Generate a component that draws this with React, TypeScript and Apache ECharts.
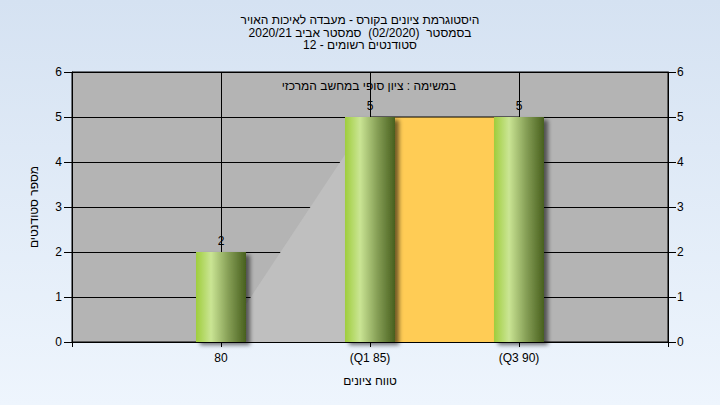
import React, { useEffect, useRef } from 'react';
import * as echarts from 'echarts';

const categories = ['', '80', '(Q1 85)', '(Q3 90)', ''];
const studentCounts: (number | string)[] = ['-', 2, 5, 5, '-'];
const rampValues: (number | string)[] = ['-', 0, 5, '-', '-'];
const quartileBand: (number | string)[] = ['-', '-', 5, 5, '-'];
const yMin = 0;
const yMax = 6;
const yInterval = 1;
const titleLines = [
  'היסטוגרמת ציונים בקורס - מעבדה לאיכות האויר',
  'בסמסטר  (02/2020)  סמסטר אביב 2020/21',
  'סטודנטים רשומים - 12',
];
const subtitle = 'במשימה : ציון סופי במחשב המרכזי';
const xAxisName = 'טווח ציונים';
const yAxisName = 'מספר סטודנטים';

const FONT = '"Liberation Sans", "DejaVu Sans", sans-serif';

export default function App() {
  const ref = useRef<HTMLDivElement>(null);
  useEffect(() => {
    if (!ref.current) return;
    const chart = echarts.init(ref.current, null, { renderer: 'svg' });
    const barGradient = new echarts.graphic.LinearGradient(0, 0, 1, 0, [
      { offset: 0, color: '#9fcd3c' },
      { offset: 0.3, color: '#cae594' },
      { offset: 0.65, color: '#859e55' },
      { offset: 1, color: '#48601e' },
    ]);
    const axisLabel = { color: '#000', fontSize: 12, fontFamily: FONT };
    chart.setOption({
      animation: false,
      backgroundColor: 'transparent',
      textStyle: { fontFamily: FONT },
      title: {
        text: titleLines.join('\n'),
        left: 'center',
        top: 9,
        textStyle: {
          fontSize: 12,
          fontWeight: 'normal',
          color: '#000',
          lineHeight: 12.5,
          fontFamily: FONT,
        },
      },
      graphic: [
        {
          type: 'text',
          x: 369,
          y: 86,
          z: 100,
          style: {
            text: subtitle,
            align: 'center',
            verticalAlign: 'middle',
            fontSize: 12,
            fontFamily: FONT,
            fill: '#000',
          },
        },
      ],
      grid: {
        left: 72,
        right: 52,
        top: 72,
        bottom: 63,
        show: true,
        backgroundColor: '#b4b4b4',
        borderColor: '#000',
        borderWidth: 1,
      },
      xAxis: {
        type: 'category',
        data: categories,
        boundaryGap: false,
        name: xAxisName,
        nameLocation: 'middle',
        nameGap: 33,
        nameTextStyle: { color: '#000', fontSize: 12, fontFamily: FONT },
        axisLine: { lineStyle: { color: '#000', width: 1 } },
        axisTick: { show: true, length: 5, lineStyle: { color: '#000' } },
        axisLabel: { ...axisLabel, margin: 10, interval: 0 },
        splitLine: { show: true, lineStyle: { color: '#000', width: 1 } },
      },
      yAxis: [
        {
          type: 'value',
          min: yMin,
          max: yMax,
          interval: yInterval,
          position: 'left',
          name: yAxisName,
          nameLocation: 'middle',
          nameGap: 32,
          nameRotate: 90,
          nameTextStyle: { color: '#000', fontSize: 12, fontFamily: FONT },
          axisLine: { show: true, lineStyle: { color: '#000' } },
          axisTick: { show: true, length: 8, lineStyle: { color: '#000' } },
          axisLabel: { ...axisLabel, margin: 10 },
          splitLine: { show: true, lineStyle: { color: '#000', width: 1 } },
        },
        {
          type: 'value',
          min: yMin,
          max: yMax,
          interval: yInterval,
          position: 'right',
          axisLine: { show: true, lineStyle: { color: '#000' } },
          axisTick: { show: true, length: 8, lineStyle: { color: '#000' } },
          axisLabel: { ...axisLabel, margin: 9 },
          splitLine: { show: false },
        },
      ],
      series: [
        {
          type: 'line',
          data: rampValues,
          symbol: 'none',
          z: 1,
          lineStyle: { width: 0 },
          areaStyle: { color: '#bfbfbf', opacity: 1 },
          silent: true,
        },
        {
          type: 'line',
          data: quartileBand,
          symbol: 'none',
          z: 1,
          lineStyle: { width: 1, color: '#000' },
          areaStyle: { color: '#ffcc55', opacity: 1 },
          silent: true,
        },
        {
          type: 'bar',
          data: studentCounts,
          barWidth: 50,
          z: 3,
          itemStyle: {
            color: barGradient,
            shadowColor: 'rgba(0,0,0,0.55)',
            shadowBlur: 4,
            shadowOffsetX: 4,
            shadowOffsetY: 3,
          },
          label: {
            show: true,
            position: 'top',
            distance: 5,
            color: '#000',
            fontSize: 12,
            fontFamily: FONT,
          },
        },
      ],
    });
    return () => chart.dispose();
  }, []);
  return (
    <div
      ref={ref}
      style={{
        position: 'fixed',
        left: 0,
        top: 0,
        width: 720,
        height: 405,
        background: 'linear-gradient(to bottom, #d5e2f2 0%, #eef5fd 100%)',
      }}
    />
  );
}
